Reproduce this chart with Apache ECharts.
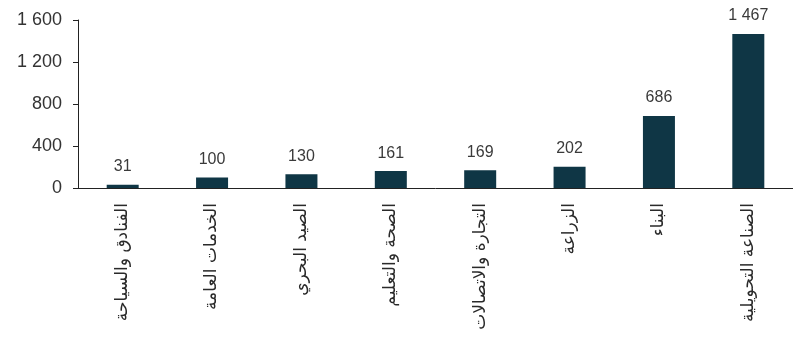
<!DOCTYPE html>
<html>
<head>
<meta charset="utf-8">
<script src="https://cdn.jsdelivr.net/npm/echarts@6/dist/echarts.min.js"></script>
<style>
  html, body { margin: 0; padding: 0; background: #ffffff; }
  #chart { width: 793px; height: 343px; }
</style>
</head>
<body>
<div id="chart"></div>
<script>
// Sectors, in ascending order of value
const sectors = [
  'الفنادق والسياحة',
  'الخدمات العامة',
  'الصيد البحري',
  'الصحة والتعليم',
  'التجارة والاتصالات',
  'الزراعة',
  'البناء',
  'الصناعة التحويلية'
];
const values = [31, 100, 130, 161, 169, 202, 686, 1467];
const yTicks = [0, 400, 800, 1200, 1600];

// Numbers use a space as the thousands separator
function spaced(n) {
  return String(n).replace(/\B(?=(\d{3})+(?!\d))/g, ' ');
}

const chart = echarts.init(document.getElementById('chart'));
chart.setOption({
  animation: false,
  textStyle: { fontFamily: 'Liberation Sans, Arial, sans-serif' },
  grid: { left: 78, right: -4, top: 20, bottom: 155, containLabel: false },
  xAxis: {
    type: 'category',
    data: sectors,
    axisLine: { lineStyle: { color: '#222222', width: 1 } },
    axisTick: { alignWithLabel: false, length: 5, lineStyle: { color: '#222222' } },
    axisLabel: {
      rotate: 90,
      interval: 0,
      margin: 15,
      fontSize: 17,
      color: '#2a2a2a',
      fontFamily: 'DejaVu Sans, sans-serif'
    }
  },
  yAxis: {
    type: 'value',
    min: yTicks[0],
    max: yTicks[yTicks.length - 1],
    interval: 400,
    splitLine: { show: false },
    axisLine: { show: true, lineStyle: { color: '#222222', width: 1 } },
    axisTick: { show: true, inside: false, length: 5, lineStyle: { color: '#222222' } },
    axisLabel: {
      fontSize: 18,
      color: '#333333',
      margin: 16,
      formatter: v => spaced(v)
    }
  },
  series: [{
    type: 'bar',
    data: values,
    barWidth: 32,
    itemStyle: { color: '#0f3645' },
    label: {
      show: true,
      position: 'top',
      distance: 10,
      fontSize: 16,
      color: '#3a3a3a',
      formatter: p => spaced(p.value)
    }
  }]
});
</script>
</body>
</html>
